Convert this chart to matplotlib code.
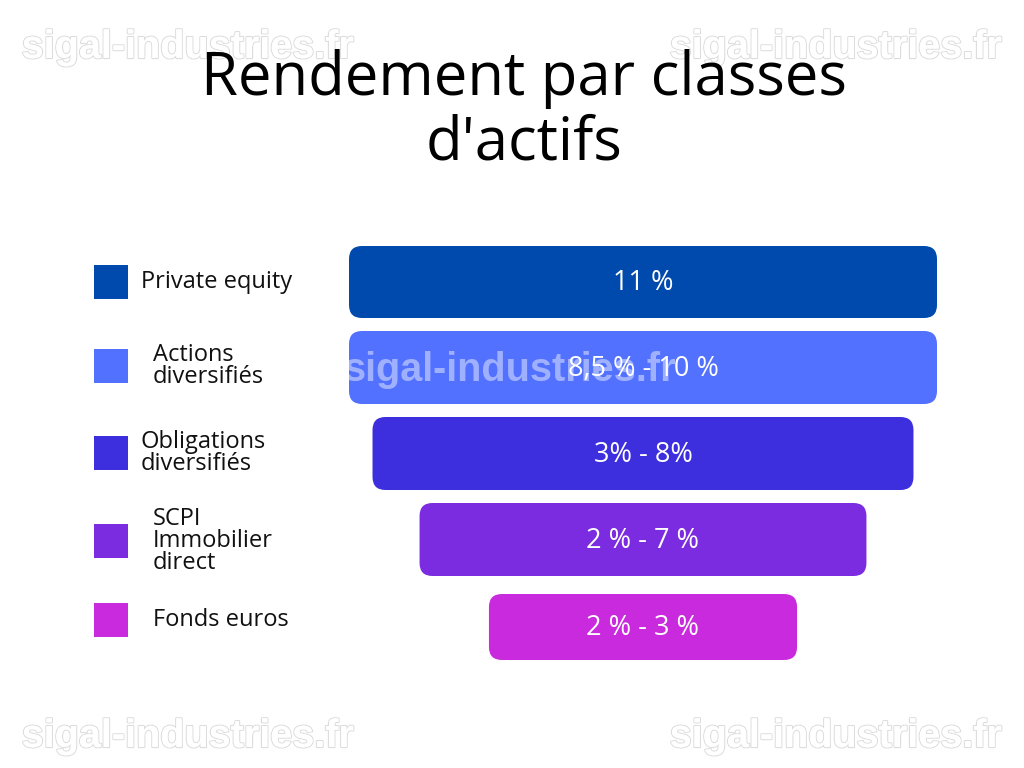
import matplotlib.pyplot as plt
import matplotlib.patheffects as pe
from matplotlib.patches import FancyBboxPatch, Rectangle

# data
categories = ["Private equity", "Actions\ndiversifiés", "Obligations\ndiversifiés",
              "SCPI\nImmobilier\ndirect", "Fonds euros"]
rendements = ["11 %", "8,5 % - 10 %", "3% - 8%", "2 % - 7 %", "2 % - 3 %"]
funnel_width = [100, 100, 92, 76, 52.4]
colors = ["#004AAD", "#5271FF", "#3D2EDE", "#7B2BE0", "#C92ADE"]

title = "Rendement par classes\nd'actifs"
watermark = "sigal-industries.fr"

plt.rcParams['font.family'] = ['Open Sans', 'DejaVu Sans']

fig = plt.figure(figsize=(10.24, 7.68), dpi=100)
ax = fig.add_axes([0, 0, 1, 1])
ax.set_xlim(0, 1024)
ax.set_ylim(768, 0)
ax.axis('off')

# funnel layout (pixel-like units)
x_center = 643
scale = 5.88
bar_top = [246, 331, 417, 503, 594]
bar_h = [72, 73, 73, 73, 66]
legend_y = [282, 366, 453, 541, 620]
label_x = [141, 153, 141, 153, 153]

for i, cat in enumerate(categories):
    w = funnel_width[i] * scale
    ax.add_patch(FancyBboxPatch((x_center - w / 2, bar_top[i]), w, bar_h[i],
                                boxstyle="round,pad=0,rounding_size=13",
                                facecolor=colors[i], edgecolor='none'))
    ax.text(x_center, bar_top[i] + bar_h[i] / 2 + 1, rendements[i], color='white',
            fontsize=19.5, ha='center', va='center')
    # legend square and label
    ax.add_patch(Rectangle((94, legend_y[i] - 17), 34, 34, facecolor=colors[i],
                           edgecolor='none'))
    ax.text(label_x[i], legend_y[i], cat, fontsize=17, ha='left', va='center',
            linespacing=0.87, color='#111111')

# watermarks
outline = [pe.withStroke(linewidth=1.6, foreground='#dcdcdc'), pe.Normal()]
for (wx, wy) in [(188, 47), (836, 47), (188, 736), (836, 736)]:
    ax.text(wx, wy, watermark, fontsize=28.5, fontweight='bold', color='white',
            family='Liberation Sans', ha='center', va='center',
            path_effects=outline, zorder=1)
ax.text(510, 370, watermark, fontsize=28.5, fontweight='bold', color='white',
        alpha=0.45, family='Liberation Sans', ha='center', va='center', zorder=5)

ax.text(524, 111, title, fontsize=43, ha='center', va='center',
        linespacing=1.09, color='black', zorder=3)

fig.savefig('out.png', dpi=100, facecolor='white')
